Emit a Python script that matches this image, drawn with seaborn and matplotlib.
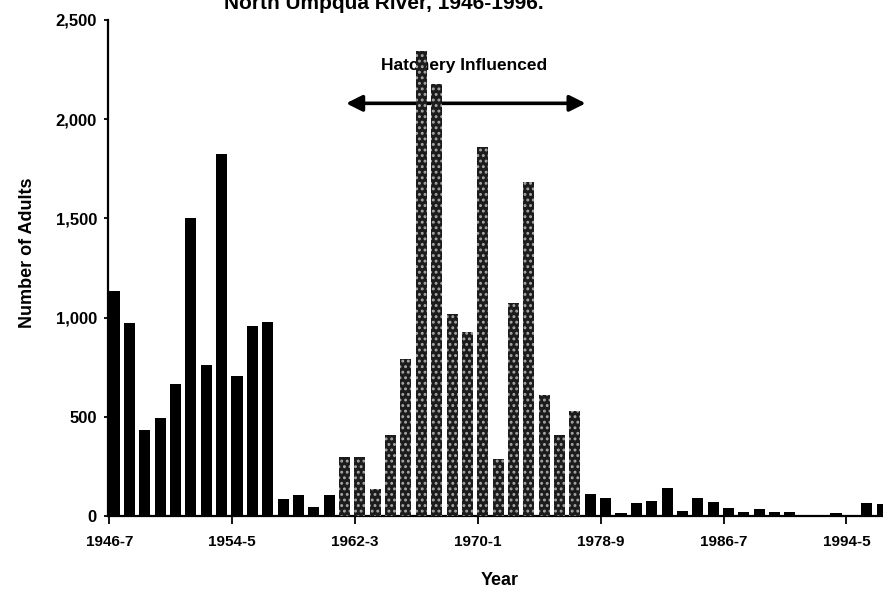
import pandas as pd
import seaborn as sns
import matplotlib.pyplot as plt
from matplotlib import font_manager

# Adult counts per run year, North Umpqua River 1946-1996
seasons = [f"{y}-{(y + 1) % 10}" for y in range(1946, 1997)]
adults = [1135, 975, 435, 495, 665, 1500, 760, 1825, 705, 960,
          980, 85, 105, 45, 105, 295, 295, 135, 410, 790,
          2345, 2175, 1020, 925, 1860, 285, 1075, 1685, 610, 410,
          530, 110, 90, 15, 65, 75, 140, 25, 90, 70,
          40, 20, 35, 20, 20, 5, 0, 15, 0, 65,
          60]
hatchery_first = "1961-2"
hatchery_last = "1976-7"
shown_labels = ["1946-7", "1954-5", "1962-3", "1970-1", "1978-9", "1986-7", "1994-5"]
y_ticks = [0, 500, 1000, 1500, 2000, 2500]
y_labels = ["0", "500", "1,000", "1,500", "2,000", "2,500"]

df = pd.DataFrame({'season': seasons, 'adults': adults})
i0, i1 = seasons.index(hatchery_first), seasons.index(hatchery_last)
df['group'] = ['hatchery' if i0 <= i <= i1 else 'wild' for i in range(len(df))]

sns.set_style('ticks')
names = {f.name for f in font_manager.fontManager.ttflist}
fam = 'Liberation Sans Narrow' if 'Liberation Sans Narrow' in names else 'Liberation Sans'
plt.rcParams['font.family'] = [fam, 'DejaVu Sans']
plt.rcParams['font.weight'] = 'bold'
plt.rcParams['hatch.linewidth'] = 1.3
for k in ['text.color', 'axes.labelcolor', 'xtick.color', 'ytick.color', 'axes.edgecolor']:
    plt.rcParams[k] = 'black'

fig = plt.figure(figsize=(8.83, 5.97), dpi=100)
ax = fig.add_axes([0.1223, 0.1357, 0.8777, 0.8308])

bw = 0.72
sns.barplot(data=df, x='season', y='adults', hue='group', dodge=False,
            palette={'wild': 'black', 'hatchery': '#1c1c1c'}, width=bw,
            legend=False, ax=ax, zorder=3, linewidth=0)

# stippled look for the hatchery years
for p, g in zip(sorted(ax.patches, key=lambda r: r.get_x()), df['group']):
    if g == 'hatchery':
        p.set_hatch('...')
        p.set_edgecolor('#a8a8a8')
        p.set_linewidth(0)

ax.set_xlim(-bw / 2 - 0.04, 50.06)
ax.set_ylim(0, 2500)
ax.set_yticks(y_ticks)
ax.set_yticklabels(y_labels)
ax.set_xticks([seasons.index(s) - bw / 2 + 0.04 for s in shown_labels])
ax.set_xticklabels(shown_labels)
ax.tick_params(axis='x', length=6, width=1.3, pad=8, labelsize=11)
ax.tick_params(axis='y', length=3, width=1.3, pad=5, labelsize=12)
for lab in ax.get_xticklabels() + ax.get_yticklabels():
    lab.set_fontweight('bold')

sns.despine(ax=ax)
ax.spines['left'].set_linewidth(1.6)
ax.spines['bottom'].set_linewidth(1.6)

ax.set_xlabel('Year', fontsize=13, fontweight='bold')
ax.set_ylabel('Number of Adults', fontsize=13, fontweight='bold')
ax.xaxis.set_label_coords(0.505, -0.113)
ax.yaxis.set_label_coords(-0.093, 0.53)

# hatchery period annotation
ax.annotate('', xy=(30.7, 2080), xytext=(15.1, 2080),
            arrowprops=dict(arrowstyle='<|-|>', color='black', lw=2.6,
                            mutation_scale=24, shrinkA=0, shrinkB=0),
            zorder=1)
ax.text(22.8, 2270, 'Hatchery Influenced', ha='center', va='center',
        fontsize=12.5, fontweight='bold', zorder=1)

fig.text(0.435, 1 - 9 / 597, 'North Umpqua River, 1946-1996.', ha='center',
         va='baseline', fontsize=15, fontweight='bold')

fig.savefig('out.png', dpi=100)
